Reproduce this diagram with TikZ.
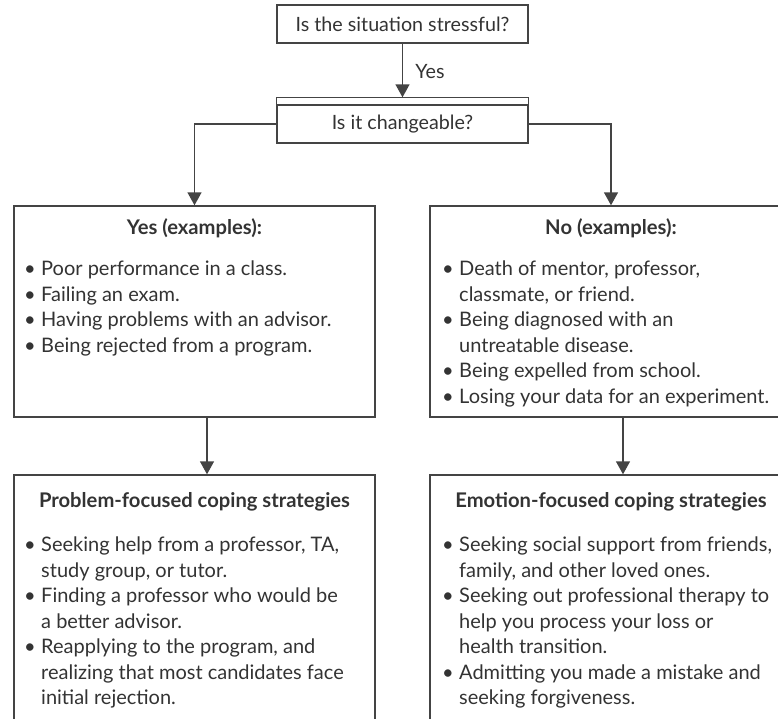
\documentclass[tikz,border=0pt]{standalone}
\usepackage{fontspec}
\setmainfont{Lato}
\usetikzlibrary{arrows.meta,calc}
\definecolor{ink}{HTML}{333333}
\definecolor{edge}{HTML}{444444}
\newlength\bulw
\setlength\bulw{17pt}
\newcommand\lbul{\makebox[\bulw][l]{\textbullet}}
\newcommand\lind{\hspace*{\bulw}}
\begin{document}
\begin{tikzpicture}[x=1pt,y=-1pt,
  font=\fontsize{19.7}{25.5}\selectfont, text=ink,
  box/.style={draw=edge, line width=1.4pt, inner sep=0pt},
  ttl/.style={font=\fontsize{20.2}{25.5}\selectfont\bfseries},
  lst/.style={anchor=north west, inner sep=0pt, align=left, font=\fontsize{20}{25.5}\selectfont},
  arr/.style={draw=edge, line width=1.4pt, -{Triangle[width=14pt,length=13pt]}}]
\clip (0,0) rectangle (778,718);
\node[box, minimum width=251pt, minimum height=38pt] (q1) at (402.5,24) {Is the situation stressful?};
\node[box, minimum width=251pt, minimum height=38pt] (q2) at (402.5,124) {Is it changeable?};
\coordinate (q2top) at ($(q2.north)+(0,-7)$);
\draw[draw=edge, line width=1.4pt] ($(q2.north west)+(0,-7)$) rectangle (q2.north east);
\node (yes) at (430,72) {Yes};
\node[box, minimum width=361pt, minimum height=211pt] (yesbox) at (194.5,311.5) {};
\node[box, minimum width=362pt, minimum height=211pt] (nobox) at (611,311.5) {};
\node[box, minimum width=361pt, minimum height=265pt] (pfbox) at (194.5,607.5) {};
\node[box, minimum width=362pt, minimum height=265pt] (efbox) at (611,607.5) {};
\node[ttl] (yt) at (194.5,228) {Yes (examples):};
\node[ttl] (nt) at (611,228) {No (examples):};
\node[ttl] (pt) at (194.5,502) {Problem-focused coping strategies};
\node[ttl] (et) at (611,502) {Emotion-focused coping strategies};
\node[lst] (yl) at (24,261) {\lbul Poor performance in a class.\\
\lbul Failing an exam.\\
\lbul Having problems with an advisor.\\
\lbul Being rejected from a program.};
\node[lst] (nl) at (442,261) {\lbul Death of mentor, professor,\\
\lind classmate, or friend.\\
\lbul Being diagnosed with an\\
\lind untreatable disease.\\
\lbul Being expelled from school.\\
\lbul Losing your data for an experiment.};
\node[lst] (pl) at (24,537) {\lbul Seeking help from a professor, TA,\\
\lind study group, or tutor.\\
\lbul Finding a professor who would be\\
\lind a better advisor.\\
\lbul Reapplying to the program, and\\
\lind realizing that most candidates face\\
\lind initial rejection.};
\node[lst] (el) at (442,537) {\lbul Seeking social support from friends,\\
\lind family, and other loved ones.\\
\lbul Seeking out professional therapy to\\
\lind help you process your loss or\\
\lind health transition.\\
\lbul Admitting you made a mistake and\\
\lind seeking forgiveness.};
\draw[arr] (q1.south) -- (q2top);
\draw[arr] (q2.west) -| (yesbox.north);
\draw[arr] (q2.east) -| (nobox.north);
\draw[arr] ($(yesbox.south)+(12.5,0)$) -- ($(pfbox.north)+(12.5,0)$);
\draw[arr] ($(nobox.south)+(12,0)$) -- ($(efbox.north)+(12,0)$);
\end{tikzpicture}
\end{document}
